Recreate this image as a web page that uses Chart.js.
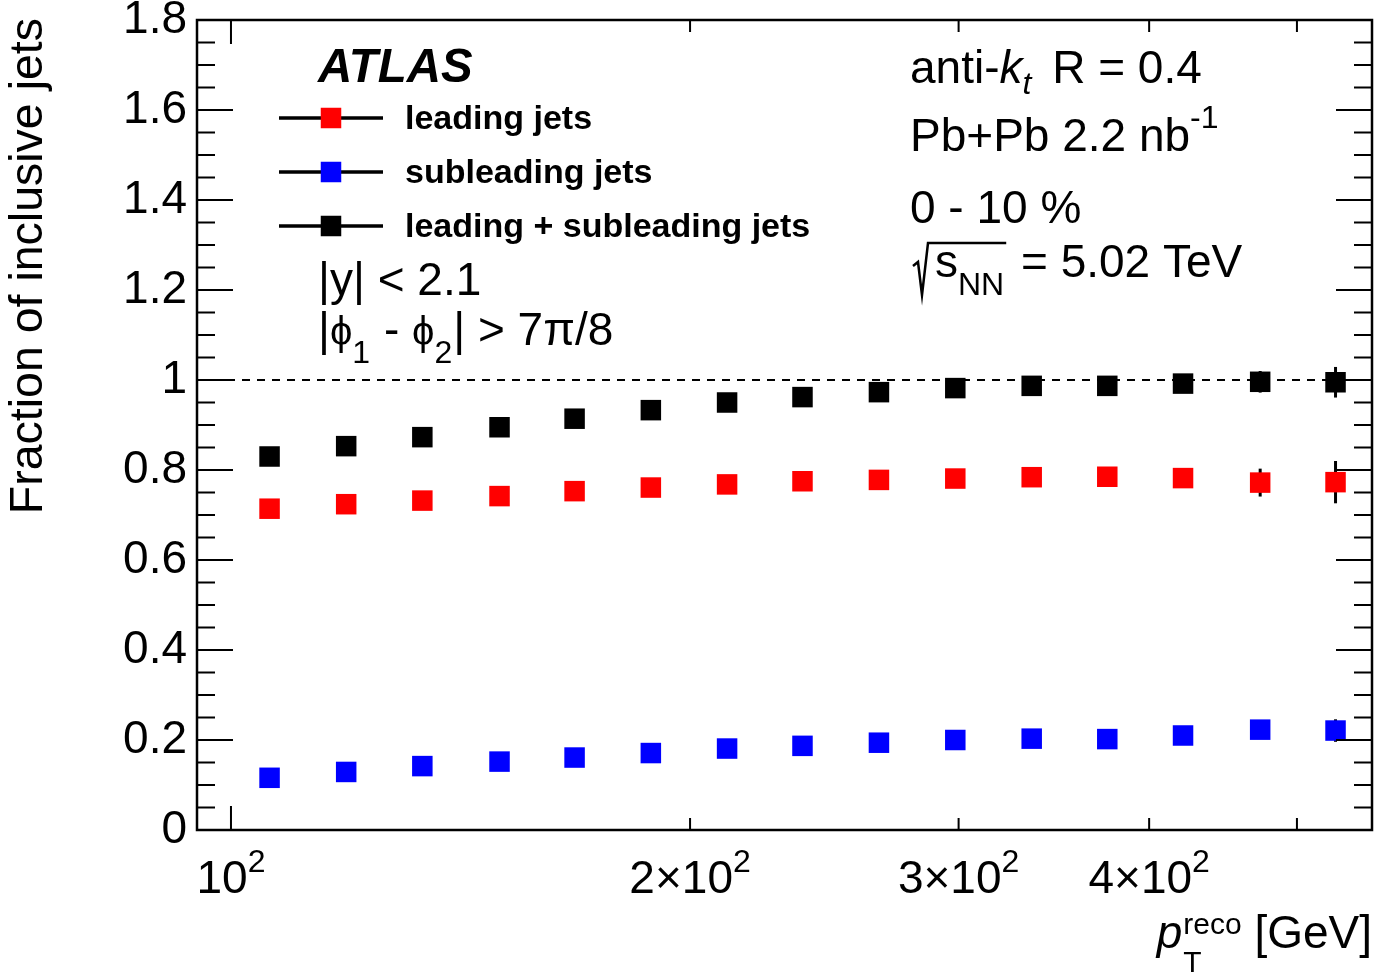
<!DOCTYPE html>
<html>
<head>
<meta charset="utf-8">
<script src="https://cdn.jsdelivr.net/npm/chart.js@4/dist/chart.umd.min.js"></script>
<style>
html,body{margin:0;padding:0;background:#fff;}
canvas{display:block;}
</style>
</head>
<body>
<canvas id="c" width="1376" height="973"></canvas>
<script>
// ---- data ----
const ptBins = [106, 119, 133.5, 150, 168, 188.5, 211.5, 237, 266, 298.5, 335, 375.5, 421, 473, 530];
const leadingFrac    = [0.714, 0.724, 0.732, 0.742, 0.753, 0.761, 0.768, 0.775, 0.778, 0.781, 0.784, 0.785, 0.782, 0.772, 0.773];
const subleadingFrac = [0.116, 0.129, 0.142, 0.152, 0.161, 0.171, 0.181, 0.187, 0.194, 0.200, 0.203, 0.202, 0.210, 0.223, 0.221];
const sumFrac        = [0.830, 0.853, 0.873, 0.895, 0.914, 0.933, 0.950, 0.962, 0.973, 0.982, 0.987, 0.987, 0.992, 0.996, 0.995];
const leadingErr     = [0.003, 0.003, 0.003, 0.004, 0.004, 0.005, 0.005, 0.006, 0.007, 0.008, 0.009, 0.011, 0.016, 0.031, 0.047];
const subleadingErr  = [0.002, 0.002, 0.002, 0.003, 0.003, 0.003, 0.004, 0.004, 0.005, 0.006, 0.007, 0.008, 0.012, 0.018, 0.025];
const sumErr         = [0.003, 0.003, 0.003, 0.004, 0.004, 0.005, 0.005, 0.006, 0.007, 0.008, 0.009, 0.011, 0.015, 0.024, 0.034];
const seriesLabels   = ['leading jets', 'subleading jets', 'leading + subleading jets'];
const seriesColors   = ['#ff0000', '#0000ff', '#000000'];
const xTickValues    = [100, 200, 300, 400, 500];
const xTickLabels    = ['10^2', '2×10^2', '3×10^2', '4×10^2', ''];
const yTickStep      = 0.2;
const yMinorStep     = 0.05;
const xRange         = [95, 560];
const yRange         = [0, 1.8];
const unityLine      = 1;

const FAM = '"Liberation Sans", Arial, Helvetica, sans-serif';
function fnt(p){ return `${p.italic?'italic':'normal'} ${p.bold?'bold':'normal'} ${p.size}px ${FAM}`; }

function drawParts(ctx, x, y, parts, align){
  ctx.save();
  ctx.textAlign = 'left'; ctx.textBaseline = 'alphabetic'; ctx.fillStyle = '#000';
  const ws = parts.map(p => { ctx.font = fnt(p); return ctx.measureText(p.t).width; });
  let total = 0;
  parts.forEach((p,i) => { if (p.adv !== false) total += ws[i] + (p.gap||0); });
  let cx = align === 'right' ? x - total : align === 'center' ? x - total/2 : x;
  const pos = [];
  parts.forEach((p,i) => {
    ctx.font = fnt(p);
    ctx.fillText(p.t, cx, y + (p.dy||0));
    pos.push({x0: cx, x1: cx + ws[i]});
    if (p.adv !== false) cx += ws[i] + (p.gap||0);
  });
  ctx.restore();
  return pos;
}

const rootPlugin = {
  id: 'rootStyle',
  beforeDatasetsDraw(chart){
    const {ctx, chartArea: a, scales: {x, y}} = chart;
    ctx.save();
    // dashed unity line
    ctx.strokeStyle = '#000'; ctx.lineWidth = 2; ctx.setLineDash([8, 7]);
    const py1 = y.getPixelForValue(unityLine);
    ctx.beginPath(); ctx.moveTo(a.left, py1); ctx.lineTo(a.right, py1); ctx.stroke();
    ctx.setLineDash([]);
    // error bars
    ctx.lineWidth = 3;
    chart.data.datasets.forEach(ds => {
      ds.data.forEach((pt, i) => {
        const e = ds.errors[i];
        const px = x.getPixelForValue(pt.x);
        ctx.beginPath();
        ctx.moveTo(px, y.getPixelForValue(pt.y - e));
        ctx.lineTo(px, y.getPixelForValue(pt.y + e));
        ctx.stroke();
      });
    });
    ctx.restore();
  },
  afterDraw(chart){
    const {ctx, chartArea: a, scales: {x, y}} = chart;
    ctx.save();
    ctx.strokeStyle = '#000';
    // frame
    ctx.lineWidth = 2.5;
    ctx.strokeRect(a.left, a.top, a.right - a.left, a.bottom - a.top);
    // y ticks (left and right)
    ctx.lineWidth = 2;
    const nMinor = Math.round((yRange[1] - yRange[0]) / yMinorStep);
    const perMajor = Math.round(yTickStep / yMinorStep);
    for (let k = 1; k < nMinor; k++){
      const v = yRange[0] + k * yMinorStep;
      const py = y.getPixelForValue(v);
      const len = (k % perMajor === 0) ? 36 : 18;
      ctx.beginPath();
      ctx.moveTo(a.left, py); ctx.lineTo(a.left + len, py);
      ctx.moveTo(a.right, py); ctx.lineTo(a.right - len, py);
      ctx.stroke();
    }
    // x ticks (bottom and top)
    xTickValues.forEach(v => {
      const px = x.getPixelForValue(v);
      const len = (v === 100) ? 24 : 12;
      ctx.beginPath();
      ctx.moveTo(px, a.bottom); ctx.lineTo(px, a.bottom - len);
      ctx.moveTo(px, a.top); ctx.lineTo(px, a.top + len);
      ctx.stroke();
    });
    // x tick labels with superscripts
    xTickValues.forEach((v, i) => {
      const lab = xTickLabels[i];
      if (!lab) return;
      const [base, sup] = lab.split('^');
      drawParts(ctx, x.getPixelForValue(v), 893, [
        {t: base, size: 46},
        {t: sup, size: 32, dy: -21}
      ], 'center');
    });
    // y axis title
    ctx.save();
    ctx.fillStyle = '#000';
    ctx.font = `normal normal 46.5px ${FAM}`;
    ctx.translate(42, 18);
    ctx.rotate(-Math.PI / 2);
    ctx.textAlign = 'right'; ctx.textBaseline = 'alphabetic';
    ctx.fillText('Fraction of inclusive jets', 0, 0);
    ctx.restore();
    // x axis title
    drawParts(ctx, a.right, 948, [
      {t: 'p', size: 46, italic: true, gap: 1},
      {t: 'T', size: 30, dy: 24, adv: false},
      {t: 'reco', size: 30, dy: -14},
      {t: ' [GeV]', size: 46}
    ], 'right');
    // ATLAS label
    drawParts(ctx, 318, 82, [{t: 'ATLAS', size: 47.5, bold: true, italic: true}], 'left');
    // legend
    const rows = [118, 172, 226];
    chart.data.datasets.forEach((ds, i) => {
      const ry = rows[i];
      ctx.lineWidth = 3.5; ctx.strokeStyle = '#000';
      ctx.beginPath(); ctx.moveTo(279, ry); ctx.lineTo(383, ry); ctx.stroke();
      ctx.fillStyle = ds.backgroundColor;
      ctx.fillRect(331 - 10.25, ry - 10.25, 20.5, 20.5);
      drawParts(ctx, 405, ry + 11, [{t: ds.label, size: 34, bold: true}], 'left');
    });
    // selection texts
    drawParts(ctx, 318, 295, [{t: '|y| < 2.1', size: 46}], 'left');
    drawParts(ctx, 318, 345, [
      {t: '|', size: 46},
      {t: 'ϕ', size: 40},
      {t: '1', size: 32, dy: 18, gap: 1},
      {t: ' - ', size: 46},
      {t: 'ϕ', size: 40},
      {t: '2', size: 32, dy: 18, gap: 1},
      {t: '| > 7π/8', size: 46}
    ], 'left');
    // right annotation
    drawParts(ctx, 910, 83, [
      {t: 'anti-', size: 46},
      {t: 'k', size: 46, italic: true},
      {t: 't', size: 32, italic: true, dy: 11, gap: 8},
      {t: ' R = 0.4', size: 46}
    ], 'left');
    drawParts(ctx, 910, 151, [
      {t: 'Pb+Pb 2.2 nb', size: 46},
      {t: '-1', size: 32, dy: -23}
    ], 'left');
    drawParts(ctx, 910, 223, [{t: '0 - 10 %', size: 46}], 'left');
    const pos = drawParts(ctx, 935, 277, [
      {t: 's', size: 46},
      {t: 'NN', size: 32, dy: 18, gap: 4},
      {t: ' = 5.02 TeV', size: 46}
    ], 'left');
    ctx.lineWidth = 2.5; ctx.strokeStyle = '#000';
    ctx.beginPath();
    ctx.moveTo(913, 266); ctx.lineTo(918, 262); ctx.lineTo(922, 295); ctx.lineTo(928, 243);
    ctx.lineTo(pos[1].x1 + 2, 243);
    ctx.stroke();
    ctx.restore();
  }
};

const mkData = vals => ptBins.map((px, i) => ({x: px, y: vals[i]}));
const valueSets = [leadingFrac, subleadingFrac, sumFrac];
const errSets = [leadingErr, subleadingErr, sumErr];

new Chart(document.getElementById('c').getContext('2d'), {
  type: 'scatter',
  data: {
    datasets: valueSets.map((vals, i) => ({
      label: seriesLabels[i],
      data: mkData(vals),
      errors: errSets[i],
      backgroundColor: seriesColors[i],
      borderColor: seriesColors[i],
      pointStyle: 'rect',
      pointRadius: 14.5,
      pointBorderWidth: 0,
      showLine: false
    }))
  },
  options: {
    responsive: false,
    animation: false,
    devicePixelRatio: 1,
    layout: {autoPadding: false, padding: {top: 20, right: 4, left: 0, bottom: 0}},
    plugins: {legend: {display: false}, tooltip: {enabled: false}, title: {display: false}},
    scales: {
      x: {
        type: 'logarithmic', min: xRange[0], max: xRange[1],
        grid: {display: false, drawTicks: false}, border: {display: false},
        ticks: {display: false},
        afterFit(s){ s.height = 143; s.paddingLeft = 0; s.paddingRight = 0; }
      },
      y: {
        min: yRange[0], max: yRange[1],
        grid: {display: false, drawTicks: false}, border: {display: false},
        ticks: {
          stepSize: yTickStep, autoSkip: false, padding: 10, color: '#000',
          font: {family: FAM, size: 46},
          callback: v => String(+v.toFixed(1))
        },
        afterFit(s){ s.width = 197; s.paddingTop = 0; s.paddingBottom = 0; }
      }
    }
  },
  plugins: [rootPlugin]
});
</script>
</body>
</html>
